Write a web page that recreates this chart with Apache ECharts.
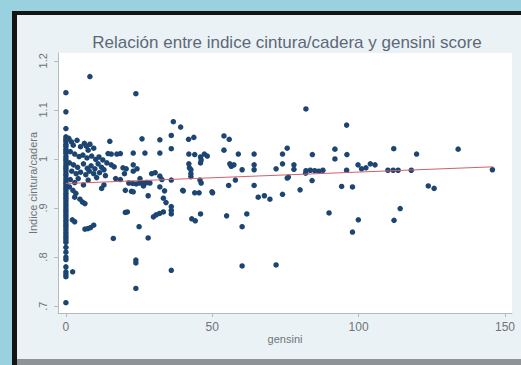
<!DOCTYPE html>
<html>
<head>
<meta charset="utf-8">
<script src="https://cdn.jsdelivr.net/npm/echarts@6/dist/echarts.min.js"></script>
<style>
  html, body { margin: 0; padding: 0; width: 521px; height: 365px; overflow: hidden; background: #99d2de; }
  #frame { position: absolute; left: 12px; top: 11px; width: 509px; height: 354px; background: #141414; }
  #chart { position: absolute; left: 17px; top: 15px; width: 504px; height: 344px; }
  #base { position: absolute; left: 17px; top: 359px; width: 504px; height: 6px; background: #8e9496; }
</style>
</head>
<body>
<div id="frame"></div>
<div id="chart"></div>
<div id="base"></div>
<script>
// gensini = 0 column (indice cintura/cadera)
const zeroScores = [1.135, 1.096, 1.062, 1.045, 1.04, 1.036, 1.03, 1.026, 1.02, 1.015, 1.011, 1.005,
  1.0, 0.996, 0.99, 0.985, 0.981, 0.976, 0.97, 0.966, 0.96, 0.955, 0.95, 0.945, 0.94, 0.935, 0.93,
  0.925, 0.92, 0.915, 0.91, 0.905, 0.9, 0.895, 0.89, 0.885, 0.88, 0.875, 0.87, 0.865, 0.86, 0.855,
  0.85, 0.845, 0.84, 0.835, 0.83, 0.82, 0.81, 0.8, 0.795, 0.78, 0.77, 0.765, 0.76, 0.707]

// [gensini, indice] for gensini up to ~22
const lowScores = [[1.0, 1.042], [1.9, 1.035], [2.5, 1.028], [3.8, 1.038], [5.0, 1.025], [6.3, 1.032],
  [7.0, 1.026], [7.6, 1.018], [8.2, 1.03], [9.5, 1.022], [1.5, 1.015], [3.0, 1.01], [4.5, 1.005],
  [5.8, 1.008], [7.2, 1.002], [8.8, 1.006], [10.2, 0.999], [11.3, 1.004], [12.6, 0.998], [1.2, 0.992],
  [2.6, 0.988], [4.0, 0.983], [6.0, 0.99], [7.3, 0.981], [8.6, 0.986], [9.9, 0.98], [11.0, 0.99],
  [12.2, 0.983], [13.0, 0.978], [2.0, 0.975], [3.5, 0.97], [5.0, 0.973], [6.8, 0.968], [8.0, 0.975],
  [9.5, 0.97], [11.5, 0.972], [13.5, 0.966], [1.5, 0.958], [3.0, 0.952], [4.2, 0.96], [6.0, 0.947],
  [7.6, 0.957], [1.2, 0.943], [2.4, 0.936], [3.4, 0.93], [4.8, 0.918], [5.7, 0.912], [3.0, 0.922],
  [6.5, 0.909], [2.2, 0.876], [3.0, 0.872], [6.5, 0.857], [7.5, 0.858], [8.4, 0.86], [9.5, 0.865],
  [2.3, 0.77], [8.2, 1.168], [15.0, 1.036], [14.4, 1.011], [15.5, 1.01], [17.4, 1.01], [18.6, 1.011],
  [14.0, 0.992], [15.5, 0.988], [16.5, 0.984], [19.5, 0.982], [20.6, 0.98], [20.0, 0.97], [12.2, 0.94],
  [17.0, 0.96], [18.6, 0.958], [20.3, 0.936], [22.4, 0.934], [20.3, 0.891], [21.0, 0.892], [16.2, 0.838],
  [13.0, 0.947], [10.5, 0.962]]

// gensini ~22 to ~60
const midScores = [[23.9, 1.133], [26, 1.041], [32.1, 1.039], [36, 1.048], [36.7, 1.076], [39.2, 1.065],
  [41.9, 1.04], [43.7, 1.044], [54, 1.047], [55.8, 1.04], [23, 1.012], [27, 1.012], [32.1, 1.012],
  [36, 1.021], [42, 1.01], [44, 1.009], [46, 1.004], [47.3, 1.01], [48.3, 1.006], [54, 1.018],
  [58.9, 1.01], [46.2, 0.998], [46, 0.992], [42, 0.99], [42.2, 0.982], [56, 0.99], [56.5, 0.985],
  [57.4, 0.988], [60.2, 0.978], [23, 0.988], [24.3, 0.98], [23, 0.975], [29.3, 0.97], [30.5, 0.972],
  [32.1, 0.965], [32.8, 0.958], [25.3, 0.96], [26.5, 0.945], [27.6, 0.952], [23, 0.933], [28.1, 0.925],
  [32.1, 0.943], [33.7, 0.935], [33.3, 0.92], [34.2, 0.911], [36, 0.957], [40.1, 0.935], [44, 0.931],
  [45.5, 0.931], [50.1, 0.931], [45.8, 0.957], [46.2, 0.951], [36, 0.903], [36, 0.895], [36, 0.888],
  [29.9, 0.882], [30.8, 0.886], [32, 0.889], [33.3, 0.892], [43, 0.878], [44.2, 0.874], [46, 0.888],
  [54.9, 0.884], [25, 0.862], [28.1, 0.839], [23.9, 0.794], [23.9, 0.788], [36, 0.773], [23.9, 0.736],
  [42.7, 0.978], [42.7, 0.97], [42.7, 0.964], [21.5, 0.951], [22.8, 0.95], [24, 0.949], [25.2, 0.951],
  [26.4, 0.95], [27.5, 0.952], [28.7, 0.951], [55.6, 0.946], [57.9, 0.957], [49.9, 0.933], [39.9, 0.936]]

// gensini above ~60
const highScores = [[64.3, 1.01], [64.3, 0.988], [64.3, 0.978], [71.8, 0.98], [74, 0.99], [77.9, 0.988],
  [77.9, 0.979], [82, 0.976], [83.5, 0.977], [85, 0.976], [86.4, 0.975], [87.8, 0.977], [95.9, 0.977],
  [99.8, 0.988], [101, 0.98], [102.5, 0.982], [104, 0.99], [105.6, 0.988], [110, 0.977], [111.8, 0.977],
  [113.5, 0.977], [118, 0.977], [145.7, 0.978], [82, 1.102], [95.9, 1.069], [75.6, 1.022], [74, 1.01],
  [84.2, 1.009], [91.9, 1.02], [91.9, 1.0], [96, 1.009], [112, 1.021], [119.8, 1.01], [134, 1.02],
  [81.9, 0.971], [76, 0.963], [75.6, 0.961], [84.1, 0.956], [94.2, 0.944], [97.9, 0.943], [123.8, 0.945],
  [125.8, 0.94], [80, 0.937], [74, 0.928], [65.7, 0.922], [67.8, 0.925], [69.7, 0.918], [64.3, 0.946],
  [60.2, 0.862], [61.8, 0.888], [89.9, 0.89], [99.9, 0.876], [97.9, 0.851], [112.1, 0.875], [114.2, 0.899],
  [60.2, 0.782], [71.8, 0.784]]

const fitLine = [[0, 0.95], [146, 0.984]]

const xTicks = [0, 50, 100, 150]
const yTicks = [0.7, 0.8, 0.9, 1.0, 1.1, 1.2]

const points = zeroScores.map(v => [0, v]).concat(lowScores, midScores, highScores)

const font = '"Liberation Sans", Arial, sans-serif'
const axisGrey = '#b4bcc2'
const labelGrey = '#6e7478'

const chart = echarts.init(document.getElementById('chart'), null, { renderer: 'svg' })
chart.setOption({
  backgroundColor: '#ebf2f5',
  animation: false,
  textStyle: { fontFamily: font },
  graphic: [{
    type: 'text', x: 270, y: 27,
    style: { text: 'Relación entre indice cintura/cadera y gensini score', fill: '#5d6878',
      font: '17px ' + font, align: 'center', verticalAlign: 'middle' }
  }],
  grid: {
    left: 41, right: 9, top: 38, bottom: 46, outerBoundsMode: 'none',
    show: true, backgroundColor: '#ffffff', borderWidth: 0
  },
  xAxis: {
    type: 'value', min: -2.7, max: 152.4,
    name: 'gensini', nameLocation: 'middle', nameGap: 20, nameMoveOverlap: false,
    nameTextStyle: { color: labelGrey, fontSize: 11, fontFamily: font },
    axisLine: { onZero: false, lineStyle: { color: axisGrey, width: 1 } },
    axisTick: { show: true, length: 4, lineStyle: { color: axisGrey }, customValues: xTicks },
    axisLabel: { color: labelGrey, fontSize: 12, margin: 8, customValues: xTicks },
    splitLine: { show: false }
  },
  yAxis: {
    type: 'value', min: 0.686, max: 1.216,
    name: 'Indice cintura/cadera', nameLocation: 'middle', nameGap: 20, nameRotate: 90,
    nameMoveOverlap: false,
    nameTextStyle: { color: labelGrey, fontSize: 11, fontFamily: font },
    axisLine: { show: true, onZero: false, lineStyle: { color: axisGrey, width: 1 } },
    axisTick: { show: true, length: 4, lineStyle: { color: axisGrey }, customValues: yTicks },
    axisLabel: {
      color: labelGrey, fontSize: 11, rotate: 90, margin: 10, customValues: yTicks,
      formatter: v => {
        const s = (Math.round(v * 10) / 10).toString()
        return s.startsWith('0') ? s.slice(1) : s
      }
    },
    splitLine: { show: false }
  },
  series: [
    {
      type: 'scatter', data: points, symbolSize: 5.5,
      itemStyle: { color: '#1c4572', opacity: 1 }
    },
    {
      type: 'line', data: fitLine, symbol: 'none',
      lineStyle: { color: '#d0606a', width: 1 }, z: 3
    }
  ]
})
</script>
</body>
</html>
